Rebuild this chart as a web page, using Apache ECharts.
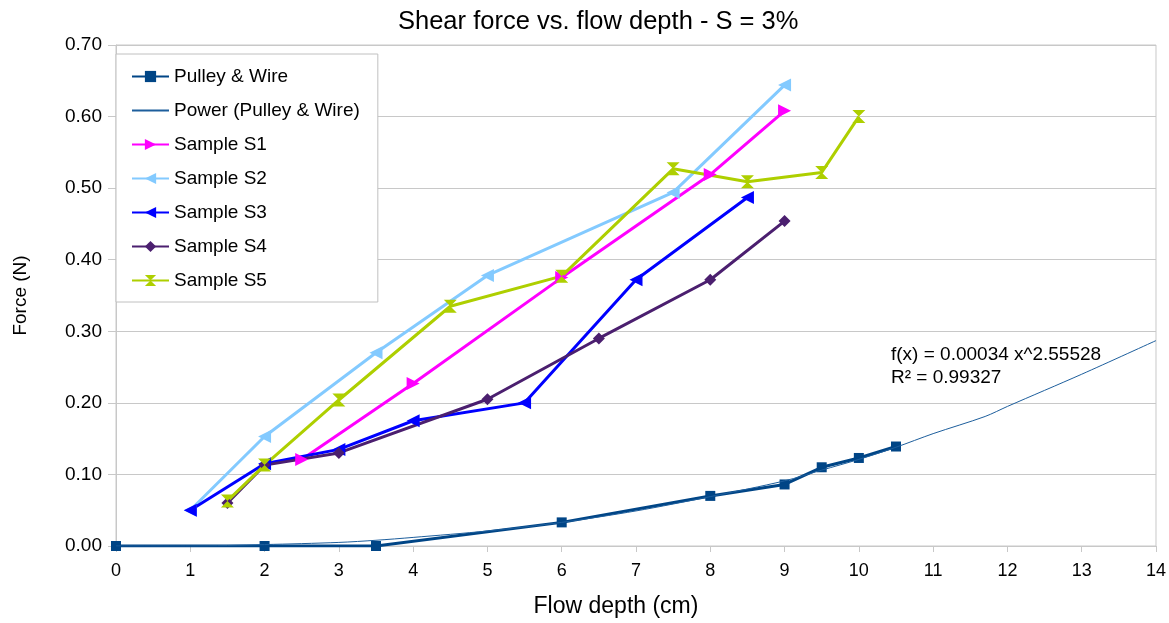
<!DOCTYPE html>
<html>
<head>
<meta charset="utf-8">
<script src="https://cdn.jsdelivr.net/npm/echarts@6/dist/echarts.min.js"></script>
<style>html,body{margin:0;padding:0;background:#fff;}#c{width:1169px;height:623px;}</style>
</head>
<body>
<div id="c"></div>
<script>
const titleText = 'Shear force vs. flow depth - S = 3%';
const xAxisName = 'Flow depth (cm)';
const yAxisName = 'Force (N)';
const trendLabel = 'f(x) = 0.00034 x^2.55528\nR² = 0.99327';

const pulleyX = [0, 2, 3.5, 6, 8, 9, 9.5, 10, 10.5];
const pulleyY = [0, 0, 0, 0.033, 0.070, 0.086, 0.110, 0.123, 0.139];

const powerX = [0, 1, 2, 3, 3.5, 4, 5, 6, 7, 8, 9, 9.5, 10, 10.5, 11, 11.7, 12, 13, 14];
const powerY = [0, 0.000, 0.002, 0.005, 0.008, 0.012, 0.021, 0.033, 0.049, 0.069, 0.091, 0.106, 0.121, 0.138, 0.157, 0.181, 0.195, 0.240, 0.287];

const s1X = [2.5, 4, 6, 8, 9];
const s1Y = [0.121, 0.227, 0.375, 0.519, 0.608];

const s2X = [1, 2, 3.5, 5, 7.5, 9];
const s2Y = [0.050, 0.153, 0.270, 0.378, 0.494, 0.644];

const s3X = [1, 2, 3, 4, 5.5, 7, 8.5];
const s3Y = [0.050, 0.115, 0.135, 0.175, 0.200, 0.372, 0.487];

const s4X = [1.5, 2, 3, 5, 6.5, 8, 9];
const s4Y = [0.060, 0.113, 0.130, 0.205, 0.290, 0.372, 0.454];

const s5X = [1.5, 2, 3, 4.5, 6, 7.5, 8.5, 9.5, 10];
const s5Y = [0.063, 0.113, 0.204, 0.335, 0.377, 0.527, 0.509, 0.522, 0.600];

function pts(xs, ys) { return xs.map((x, i) => [x, ys[i]]); }

const hourglass = 'path://M0,0 L10,0 L5,5 L10,10 L0,10 L5,5 Z';
const font = 'Liberation Sans, Arial, sans-serif';

const chart = echarts.init(document.getElementById('c'), null, {renderer: 'canvas'});
chart.setOption({
  animation: false,
  backgroundColor: '#ffffff',
  textStyle: {fontFamily: font},
  title: {
    text: titleText, left: 393, top: 4,
    textStyle: {fontFamily: font, fontSize: 25.5, fontWeight: 'normal', color: '#000'}
  },
  grid: {left: 116, right: 13, top: 45, bottom: 76, show: true, borderColor: '#c8c8c8', borderWidth: 1, backgroundColor: 'transparent'},
  legend: {
    orient: 'vertical', left: 116, top: 54,
    backgroundColor: '#fff', borderColor: '#c0c0c0', borderWidth: 1,
    padding: [12, 18, 11, 15], itemGap: 13, itemWidth: 37, itemHeight: 14,
    textStyle: {fontFamily: font, fontSize: 19, color: '#000', lineHeight: 21},
    data: [
      'Pulley & Wire',
      {name: 'Power (Pulley & Wire)', itemStyle: {opacity: 0}},
      'Sample S1', 'Sample S2', 'Sample S3', 'Sample S4', 'Sample S5'
    ]
  },
  xAxis: {
    type: 'value', min: 0, max: 14, interval: 1,
    name: xAxisName, nameLocation: 'middle', nameGap: 49,
    nameTextStyle: {fontFamily: font, fontSize: 23, color: '#000', padding: [0, 40, 0, 0]},
    axisLine: {show: true, lineStyle: {color: '#c8c8c8'}},
    axisTick: {show: true, length: 6, lineStyle: {color: '#c8c8c8'}},
    axisLabel: {fontFamily: font, fontSize: 18, color: '#000', margin: 16},
    splitLine: {show: false}
  },
  yAxis: {
    type: 'value', min: 0, max: 0.7, interval: 0.1,
    name: yAxisName, nameLocation: 'middle', nameGap: 86, nameRotate: 90,
    nameTextStyle: {fontFamily: font, fontSize: 19, color: '#000'},
    axisLine: {show: true, lineStyle: {color: '#c8c8c8'}},
    axisTick: {show: true, length: 8, lineStyle: {color: '#c8c8c8'}},
    axisLabel: {fontFamily: font, fontSize: 19, color: '#000', margin: 14, formatter: v => v.toFixed(2)},
    splitLine: {show: true, lineStyle: {color: '#c8c8c8', width: 1}}
  },
  series: [
    {name: 'Pulley & Wire', type: 'line', data: pts(pulleyX, pulleyY), symbol: 'rect', symbolSize: 10,
      lineStyle: {color: '#004586', width: 3}, itemStyle: {color: '#004586'}, z: 3},
    {name: 'Power (Pulley & Wire)', type: 'line', data: pts(powerX, powerY), symbol: 'none', smooth: 0.3,
      lineStyle: {color: '#1d5e9c', width: 1}, itemStyle: {color: '#1d5e9c'}, z: 4},
    {name: 'Sample S1', type: 'line', data: pts(s1X, s1Y), symbol: 'triangle', symbolRotate: -90, symbolSize: 13,
      lineStyle: {color: '#ff00ff', width: 3}, itemStyle: {color: '#ff00ff'}},
    {name: 'Sample S2', type: 'line', data: pts(s2X, s2Y), symbol: 'triangle', symbolRotate: 90, symbolSize: 13,
      lineStyle: {color: '#83caff', width: 3}, itemStyle: {color: '#83caff'}},
    {name: 'Sample S3', type: 'line', data: pts(s3X, s3Y), symbol: 'triangle', symbolRotate: 90, symbolSize: 13,
      lineStyle: {color: '#0000ff', width: 3}, itemStyle: {color: '#0000ff'}},
    {name: 'Sample S4', type: 'line', data: pts(s4X, s4Y), symbol: 'diamond', symbolSize: 12,
      lineStyle: {color: '#4b1f6f', width: 3}, itemStyle: {color: '#4b1f6f'}},
    {name: 'Sample S5', type: 'line', data: pts(s5X, s5Y), symbol: hourglass, symbolSize: 13,
      lineStyle: {color: '#aecf00', width: 3}, itemStyle: {color: '#aecf00'}}
  ],
  graphic: [{
    type: 'text', left: 891, top: 343,
    style: {text: trendLabel, font: '19px ' + font, fill: '#000', lineHeight: 23}
  }]
});
</script>
</body>
</html>
